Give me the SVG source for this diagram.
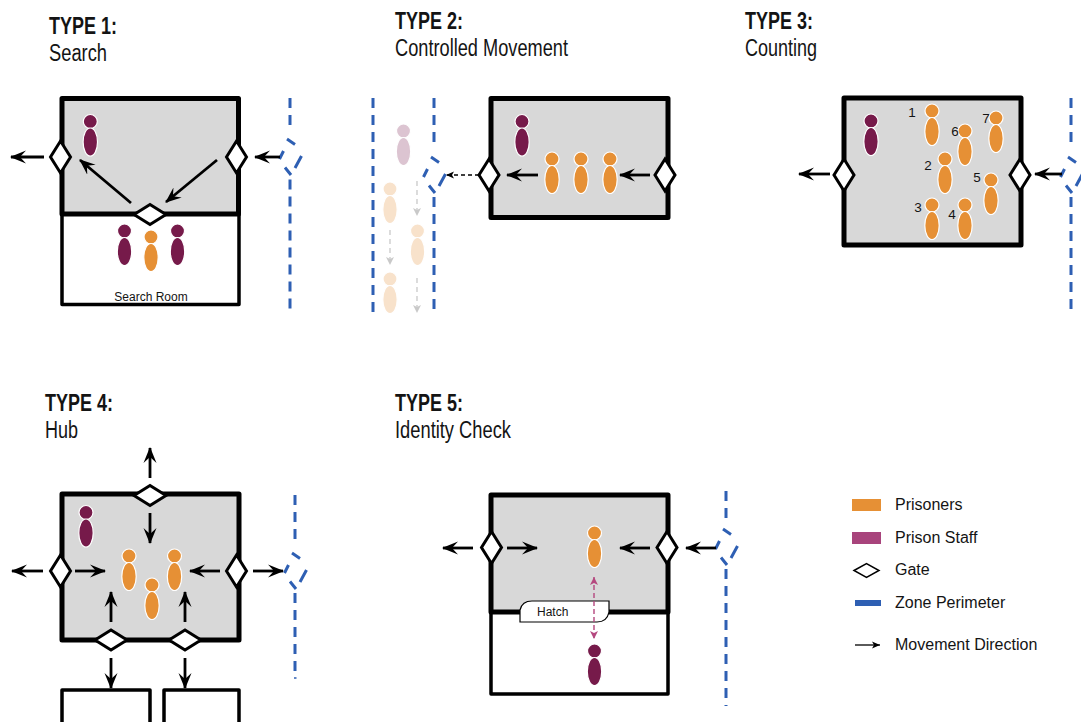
<svg xmlns="http://www.w3.org/2000/svg" width="1081" height="722" viewBox="0 0 1081 722">
<style>
text{font-family:"Liberation Sans",Arial,sans-serif;fill:#141414}
.t{font-size:23px;font-weight:bold}
.s{font-size:23px}
.l{font-size:16px}
.n{font-size:13.500px}
.room{fill:#d8d8d8;stroke:#000;stroke-width:5;stroke-linejoin:round}
.side{fill:#fff;stroke:#000;stroke-width:3.500;stroke-linejoin:round}
.gate{fill:#fff;stroke:#000;stroke-width:3}
.arr{stroke:#000;stroke-width:2.800;fill:none;marker-end:url(#ah)}
.dash{stroke:#000;stroke-width:1.300;stroke-dasharray:4 3;fill:none;marker-end:url(#ahs)}
.grey{stroke:#c9c9c9;stroke-width:1.300;stroke-dasharray:5 4;fill:none;marker-end:url(#ahg)}
.pink{stroke:#b5487f;stroke-width:1.400;stroke-dasharray:5 3;fill:none;marker-end:url(#ahp);marker-start:url(#ahps)}
.per{stroke:#2e5fb3;stroke-width:3;stroke-dasharray:10 7;fill:none}
.seg{stroke:#2e5fb3;stroke-width:3;fill:none}
.so{fill:#e69035;stroke:#fff;stroke-width:1.200}
.ss{fill:#761a4a;stroke:#fff;stroke-width:1.200}
.faint{opacity:.25}
</style>
<defs>
<marker id="ah" markerUnits="userSpaceOnUse" markerWidth="18" markerHeight="16" refX="15" refY="8" orient="auto"><path d="M0,1.500L16,8L0,14.500L6,8Z" fill="#000"/></marker>
<marker id="ahs" markerUnits="userSpaceOnUse" markerWidth="9" markerHeight="9" refX="8" refY="4.500" orient="auto"><path d="M0,1L8,4.500L0,8L2,4.500Z" fill="#000"/></marker>
<marker id="ahg" markerUnits="userSpaceOnUse" markerWidth="9" markerHeight="10" refX="8" refY="5" orient="auto"><path d="M0,1L8,5L0,9L2,5Z" fill="#c9c9c9"/></marker>
<marker id="ahp" markerUnits="userSpaceOnUse" markerWidth="9" markerHeight="10" refX="8" refY="5" orient="auto"><path d="M0,1L8,5L0,9L2,5Z" fill="#b5487f"/></marker>
<marker id="ahps" markerUnits="userSpaceOnUse" markerWidth="9" markerHeight="10" refX="1" refY="5" orient="auto"><path d="M9,1L1,5L9,9L7,5Z" fill="#b5487f"/></marker>
<g id="o"><circle r="7" class="so"/><ellipse cy="20.500" rx="7.200" ry="14" class="so"/></g>
<g id="p"><circle r="7" class="ss"/><ellipse cy="20.500" rx="7.200" ry="14" class="ss"/></g>
<path id="gv" d="M0,-16L10,0L0,16L-10,0Z" class="gate"/>
<path id="gh" d="M-16,0L0,-10L16,0L0,10Z" class="gate"/>
<g id="bump"><path class="seg" d="M-3,-18L5,-12.500M11.500,-1L5,11M-5,10.500L1,18M-10.500,2L-6.500,-6"/></g>
</defs>

<g id="type1">
<text class="t" x="49" y="34" textLength="68" lengthAdjust="spacingAndGlyphs">TYPE 1:</text>
<text class="s" x="49" y="61" textLength="58" lengthAdjust="spacingAndGlyphs">Search</text>
<rect class="side" x="62" y="214" width="177" height="90.500"/>
<rect class="room" x="62" y="98.500" width="176.500" height="115.500"/>
<text x="151" y="301" font-size="12" text-anchor="middle">Search Room</text>
<use href="#gv" x="60.500" y="157"/><use href="#gv" x="236.500" y="157"/><use href="#gh" x="150" y="214.500"/>
<use href="#p" x="90.300" y="121.500"/><use href="#p" x="124.500" y="231"/><use href="#p" x="177.500" y="231"/><use href="#o" x="151" y="237"/>
<path class="per" d="M290,98V126M290,179.500V312"/><use href="#bump" x="290" y="157"/>
</g>

<g id="type2">
<text class="t" x="395" y="29" textLength="68" lengthAdjust="spacingAndGlyphs">TYPE 2:</text>
<text class="s" x="395" y="56" textLength="173" lengthAdjust="spacingAndGlyphs">Controlled Movement</text>
<rect class="room" x="491" y="98.500" width="177" height="119"/>
<use href="#gv" x="489" y="175"/><use href="#gv" x="665" y="175"/>
<use href="#p" x="522" y="121.500"/><use href="#o" x="552" y="159"/><use href="#o" x="581" y="159"/><use href="#o" x="610" y="159"/>
<use href="#p" class="faint" x="403.500" y="131"/><use href="#o" class="faint" x="390" y="189"/><use href="#o" class="faint" x="417.500" y="231"/><use href="#o" class="faint" x="390" y="279"/>
<path class="per" d="M373,98V312"/><path class="per" d="M434,98V148M434,197V312"/><use href="#bump" x="434" y="175"/>
</g>

<g id="type3">
<text class="t" x="745" y="29" textLength="68" lengthAdjust="spacingAndGlyphs">TYPE 3:</text>
<text class="s" x="745" y="56" textLength="72" lengthAdjust="spacingAndGlyphs">Counting</text>
<rect class="room" x="844" y="98" width="177" height="147"/>
<use href="#gv" x="844" y="175"/><use href="#gv" x="1020" y="175"/>
<use href="#p" x="871" y="121"/>
<use href="#o" x="932" y="111"/><use href="#o" x="945" y="159"/><use href="#o" x="932" y="205"/><use href="#o" x="965" y="205"/><use href="#o" x="991" y="180"/><use href="#o" x="965" y="131"/><use href="#o" x="996" y="118"/>
<text class="n" x="912" y="117" text-anchor="middle">1</text><text class="n" x="928" y="170" text-anchor="middle">2</text><text class="n" x="918" y="212" text-anchor="middle">3</text><text class="n" x="952" y="219" text-anchor="middle">4</text><text class="n" x="977" y="182" text-anchor="middle">5</text><text class="n" x="955" y="136" text-anchor="middle">6</text><text class="n" x="986" y="123" text-anchor="middle">7</text>
<path class="per" d="M1071,98V148M1071,197V312"/><use href="#bump" x="1071" y="175"/>
</g>

<g id="type4">
<text class="t" x="45" y="411" textLength="68" lengthAdjust="spacingAndGlyphs">TYPE 4:</text>
<text class="s" x="45" y="438" textLength="33" lengthAdjust="spacingAndGlyphs">Hub</text>
<rect class="side" x="62" y="690" width="88" height="40"/><rect class="side" x="164" y="690" width="75" height="40"/>
<rect class="room" x="62" y="494" width="177" height="146"/>
<use href="#gh" x="150" y="495.500"/><use href="#gv" x="60.500" y="571"/><use href="#gv" x="236.500" y="571"/><use href="#gh" x="111" y="640"/><use href="#gh" x="185" y="640"/>
<use href="#p" x="86" y="512.500"/><use href="#o" x="129" y="556"/><use href="#o" x="174.500" y="556"/><use href="#o" x="152" y="585"/>
<path class="per" d="M295,495V544M295,593V672"/><path d="M294,678H296.500" stroke="#2e5fb3" stroke-width="1.500"/><use href="#bump" x="295" y="571"/>
</g>

<g id="type5">
<text class="t" x="395" y="411" textLength="68" lengthAdjust="spacingAndGlyphs">TYPE 5:</text>
<text class="s" x="395" y="438" textLength="116" lengthAdjust="spacingAndGlyphs">Identity Check</text>
<rect class="side" x="491" y="612" width="177" height="82"/>
<rect class="room" x="491" y="495" width="177" height="117"/>
<use href="#gv" x="491.500" y="547.500"/><use href="#gv" x="667" y="547.500"/>
<path id="hatch" d="M520,622V610Q522,601 532,601H609V612Q607,622 597,622Z" fill="#fff" stroke="#000" stroke-width="1.200"/>
<text x="537" y="616" font-size="12">Hatch</text>
<use href="#o" x="594.500" y="533"/><use href="#p" x="594.500" y="651"/>
<path class="per" d="M726,491V520M726,569V706"/><use href="#bump" x="726" y="547"/>
</g>

<g id="connectors">
<line class="arr" x1="44" y1="157" x2="11" y2="157"/><line class="arr" x1="280" y1="157" x2="255" y2="157"/>
<line class="arr" x1="131" y1="203" x2="80" y2="160"/><line class="arr" x1="217" y1="160" x2="166" y2="202"/>
<line class="arr" x1="538" y1="175" x2="507" y2="175"/><line class="arr" x1="650" y1="175" x2="620" y2="175"/>
<line class="dash" x1="479" y1="175" x2="446" y2="175"/>
<line class="grey" x1="417" y1="181" x2="417" y2="216"/><line class="grey" x1="390" y1="230" x2="390" y2="265"/><line class="grey" x1="417" y1="278" x2="417" y2="313"/>
<line class="arr" x1="830" y1="174" x2="799" y2="174"/><line class="arr" x1="1062" y1="174" x2="1035" y2="174"/>
<line class="arr" x1="150" y1="478" x2="150" y2="448"/><line class="arr" x1="150" y1="513" x2="150" y2="543"/>
<line class="arr" x1="43" y1="571" x2="12" y2="571"/><line class="arr" x1="75" y1="571" x2="105" y2="571"/>
<line class="arr" x1="220" y1="571" x2="190" y2="571"/><line class="arr" x1="253" y1="571" x2="283" y2="571"/>
<line class="arr" x1="111" y1="622" x2="111" y2="592"/><line class="arr" x1="185" y1="622" x2="185" y2="592"/>
<line class="arr" x1="111" y1="658" x2="111" y2="688"/><line class="arr" x1="185" y1="658" x2="185" y2="688"/>
<line class="arr" x1="473" y1="548" x2="443" y2="548"/><line class="arr" x1="507" y1="548" x2="537" y2="548"/>
<line class="arr" x1="650" y1="548" x2="620" y2="548"/><line class="arr" x1="716" y1="548" x2="686" y2="548"/>
<line class="pink" x1="594" y1="577" x2="594" y2="639"/>
</g>

<g id="legend">
<rect x="852" y="499" width="29" height="12" fill="#e69035"/><text class="l" x="895" y="510">Prisoners</text>
<rect x="852" y="532" width="29" height="12" fill="#a8447c"/><text class="l" x="895" y="543">Prison Staff</text>
<path d="M854,570.500L866.500,563.500L879,570.500L866.500,577.500Z" fill="#fff" stroke="#000" stroke-width="1.500"/><text class="l" x="895" y="575">Gate</text>
<rect x="855" y="600" width="26" height="6" fill="#2e5fb3"/><text class="l" x="895" y="608">Zone Perimeter</text>
<line x1="855" y1="645" x2="880" y2="645" stroke="#000" stroke-width="1.300" marker-end="url(#ahs)"/><text class="l" x="895" y="650">Movement Direction</text>
</g>
</svg>
